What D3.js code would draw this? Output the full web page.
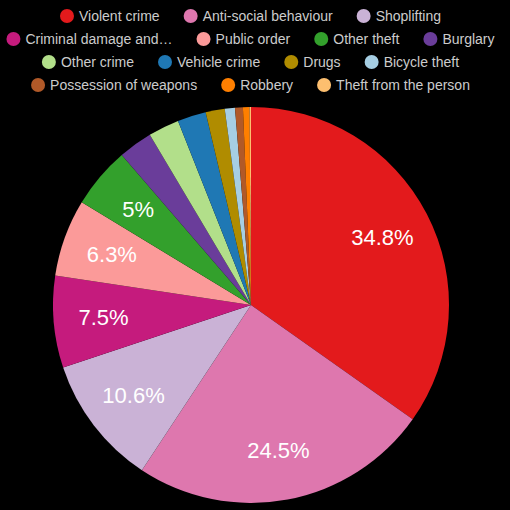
<!DOCTYPE html>
<html>
<head>
<meta charset="utf-8">
<script src="https://cdn.jsdelivr.net/npm/d3@7"></script>
<style>
  html, body { margin: 0; padding: 0; background: #000; }
  svg { display: block; font-family: 'Liberation Sans', Arial, sans-serif; }
</style>
</head>
<body>
<svg id="chart"></svg>
<script>
const categories = [
  'Violent crime', 'Anti-social behaviour', 'Shoplifting',
  'Criminal damage and…', 'Public order', 'Other theft', 'Burglary',
  'Other crime', 'Vehicle crime', 'Drugs', 'Bicycle theft',
  'Possession of weapons', 'Robbery', 'Theft from the person'
]
const shares = [34.8, 24.5, 10.6, 7.5, 6.3, 5.0, 2.78, 2.53, 2.33, 1.56, 0.83, 0.64, 0.53, 0.12]
const colours = [
  '#e31a1c', '#de77ae', '#cab2d6', '#c51b7d', '#fb9a99', '#33a02c', '#6a3d9a',
  '#b2df8a', '#1f78b4', '#b08c00', '#a6cee3', '#b15928', '#ff7f00', '#fdbf6f'
]
const labelled = ['34.8%', '24.5%', '10.6%', '7.5%', '6.3%', '5%']

const width = 510
const height = 510
const radius = 198
const cx = 251
const cy = 305

const data = categories.map((c, i) => ({ name: c, value: shares[i], colour: colours[i], label: labelled[i] }))

const svg = d3.select('#chart')
  .attr('width', width)
  .attr('height', height)

svg.append('rect')
  .attr('width', width)
  .attr('height', height)
  .attr('fill', '#000')

/// pie ////////////////////////////////
const pie = d3.pie().sort(null).value(d => d.value)
const arc = d3.arc().innerRadius(0).outerRadius(radius)
const labelArc = d3.arc().innerRadius(148).outerRadius(148)

const g = svg.append('g').attr('transform', 'translate(' + cx + ',' + cy + ')')

g.selectAll('path.slice')
  .data(pie(data))
  .join('path')
  .attr('class', 'slice')
  .attr('d', arc)
  .attr('fill', d => d.data.colour)

g.selectAll('text.pct')
  .data(pie(data).filter(d => d.data.label))
  .join('text')
  .attr('class', 'pct')
  .attr('transform', d => 'translate(' + labelArc.centroid(d) + ')')
  .attr('text-anchor', 'middle')
  .attr('dy', '0.35em')
  .attr('fill', '#fff')
  .attr('font-size', 22)
  .text(d => d.data.label)

/// legend ////////////////////////////////
const legend = svg.append('g').attr('class', 'legend')
const items = legend.selectAll('g.item')
  .data(data)
  .join('g')
  .attr('class', 'item')

items.append('circle')
  .attr('r', 7)
  .attr('cx', 7)
  .attr('fill', d => d.colour)

items.append('text')
  .attr('x', 19)
  .attr('dy', '0.35em')
  .attr('font-size', 14)
  .attr('fill', '#ccc')
  .text(d => d.name)

// flow the items into centred rows
const gap = 24
const maxRow = 500
const rows = [[]]
let rowWidth = 0
items.each(function(d) {
  const w = 19 + d3.select(this).select('text').node().getComputedTextLength()
  const extra = rows[rows.length - 1].length ? gap + w : w
  if (rowWidth + extra > maxRow && rows[rows.length - 1].length) {
    rows.push([])
    rowWidth = 0
  }
  const row = rows[rows.length - 1]
  rowWidth += row.length ? gap + w : w
  row.push({ node: this, w: w })
  row.total = rowWidth
})

rows.forEach((row, r) => {
  let x = 250.5 - row.total / 2
  row.forEach(it => {
    d3.select(it.node).attr('transform', 'translate(' + x + ',' + (16 + r * 23) + ')')
    x += it.w + gap
  })
})
</script>
</body>
</html>
